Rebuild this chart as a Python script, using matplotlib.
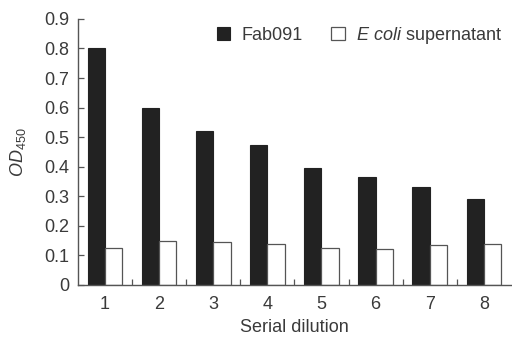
import numpy as np
import matplotlib
matplotlib.use('Agg')
import matplotlib.pyplot as plt

# Values
dilutions = [1, 2, 3, 4, 5, 6, 7, 8]
fab091 = [0.80, 0.60, 0.52, 0.475, 0.395, 0.365, 0.33, 0.29]
ecoli_sup = [0.125, 0.15, 0.145, 0.14, 0.125, 0.12, 0.135, 0.14]
yticks = [0, 0.1, 0.2, 0.3, 0.4, 0.5, 0.6, 0.7, 0.8, 0.9]
ytick_labels = ['0', '0.1', '0.2', '0.3', '0.4', '0.5', '0.6', '0.7', '0.8', '0.9']

TEXT = '#3a3a3a'
AXIS = '#555555'

plt.rcParams['font.family'] = ['Liberation Sans', 'DejaVu Sans']
plt.rcParams['mathtext.fontset'] = 'custom'
plt.rcParams['mathtext.rm'] = 'Liberation Sans'
plt.rcParams['mathtext.it'] = 'Liberation Sans:italic'


def plot_od_chart():
    fig = plt.figure(figsize=(5.12, 3.38), dpi=100)
    ax = fig.add_axes([0.152, 0.157, 0.846, 0.787])

    x = np.array(dilutions, dtype=float)
    w = 0.32
    ax.bar(x - w / 2, fab091, width=w, color='#222222', edgecolor='#222222',
           linewidth=0.8, label='Fab091')
    ax.bar(x + w / 2, ecoli_sup, width=w, color='white', edgecolor='#555555',
           linewidth=0.9, label=r'$\mathit{E\ coli}$ supernatant')

    ax.set_xlim(0.5, 8.5)
    ax.set_ylim(0, 0.9)
    ax.set_yticks(yticks)
    ax.set_yticklabels(ytick_labels)
    ax.set_xticks(dilutions)
    ax.set_xticks(np.arange(1.5, 8, 1.0), minor=True)

    ax.tick_params(axis='x', which='major', length=0, pad=8,
                   labelsize=13, labelcolor=TEXT)
    ax.tick_params(axis='x', which='minor', direction='in', length=4,
                   color=AXIS, width=0.9)
    ax.tick_params(axis='y', direction='in', length=4, color=AXIS, width=0.9,
                   labelsize=13, labelcolor=TEXT, pad=6)

    for side in ('top', 'right'):
        ax.spines[side].set_visible(False)
    for side in ('left', 'bottom'):
        ax.spines[side].set_color(AXIS)
        ax.spines[side].set_linewidth(1.0)

    ax.set_xlabel('Serial dilution', fontsize=13, color=TEXT, labelpad=4)
    ax.set_ylabel(r'$\mathit{OD}_{\mathrm{450}}$', fontsize=13, color=TEXT,
                  labelpad=12)

    leg = ax.legend(loc='upper center', bbox_to_anchor=(0.65, 1.04), ncol=2,
                    frameon=False, fontsize=13, handlelength=0.75,
                    handleheight=0.75, handletextpad=0.6, columnspacing=1.6)
    for t in leg.get_texts():
        t.set_color(TEXT)

    fig.savefig('out.png', dpi=100)


if __name__ == '__main__':
    plot_od_chart()
